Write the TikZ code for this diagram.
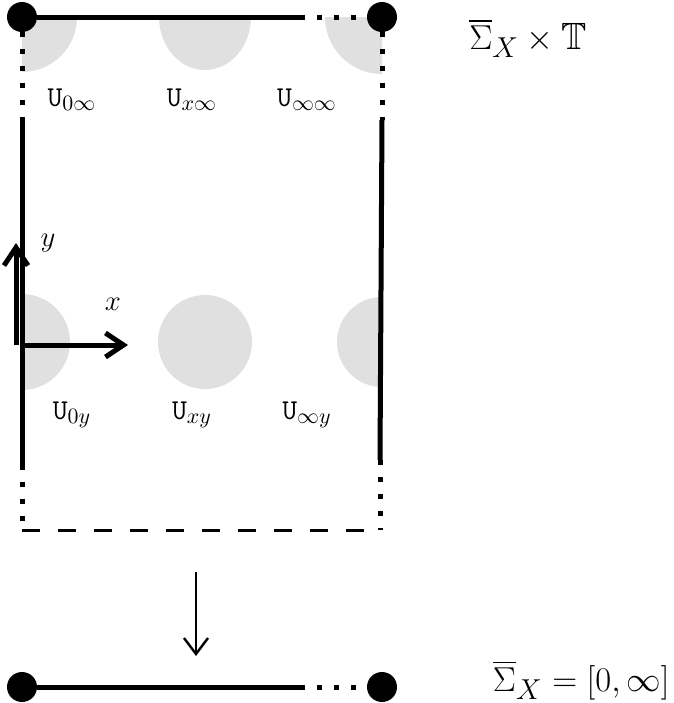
\documentclass[tikz,border=0pt]{standalone}
\usepackage{amsmath}
\usepackage{amssymb}
\usetikzlibrary{arrows.meta, positioning}

\begin{document}
\begin{tikzpicture}[x=0.5pt, y=-0.5pt,
    thick line/.style={line width=2.5pt},
    dot line/.style={line width=2.5pt, dash pattern=on 2.5pt off 6pt},
    region/.style={fill=black!12, draw=none},
    ulabel/.style={font=\fontsize{15}{17}\selectfont},
    pt/.style={circle, fill=black, inner sep=0pt, minimum size=15pt}]
  \useasboundingbox (0,0) rectangle (674,703);
  % grey neighbourhoods
  \fill[region] (22,17) -- (77,17) arc[start angle=0, end angle=90, radius=55] -- cycle;
  \fill[region] (159,17) arc[start angle=180, end angle=0, x radius=46, y radius=53] -- cycle;
  \fill[region] (382,17) -- (382,74) arc[start angle=90, end angle=180, radius=57] -- cycle;
  \fill[region] (22,294) arc[start angle=-90, end angle=90, radius=48] -- cycle;
  \fill[region] (205,342) circle[radius=47];
  \fill[region] (382,297) arc[start angle=-90, end angle=-270, radius=45] -- cycle;
  % corners
  \node[pt] (tl) at (22,17) {};
  \node[pt] (tr) at (382,17) {};
  \node[pt] (bl) at (22,687) {};
  \node[pt] (br) at (382,687) {};
  \coordinate (ta) at (300,17);
  \coordinate (ba) at (300,687);
  \coordinate (la) at (22,120);
  \coordinate (lb) at (22,465);
  \coordinate (lc) at (22,530);
  \coordinate (ra) at (382,120);
  \coordinate (rb) at (380,460);
  \coordinate (rc) at (380,530);
  % boundary
  \draw[thick line] (tl) -- (ta);
  \draw[dot line] (ta) -- (tr);
  \draw[dot line] (tl) -- (la);
  \draw[thick line] (la) -- (lb);
  \draw[dot line] (lb) -- (lc);
  \draw[dot line] (tr) -- (ra);
  \draw[thick line] (ra) -- (rb);
  \draw[dot line] (rb) -- (rc);
  \draw[line width=1.5pt, dash pattern=on 9pt off 9pt] (lc) -- (rc);
  \draw[thick line] (bl) -- (ba);
  \draw[dot line] (ba) -- (br);
  % axes
  \coordinate (o) at (20,345);
  \coordinate (yt) at (16,243);
  \coordinate (xt) at (128,345);
  \draw[thick line, -{Straight Barb[length=9pt, width=12pt]}] (16,345) -- (yt);
  \draw[thick line, -{Straight Barb[length=9pt, width=12pt]}] (o) -- (xt);
  \node[ulabel] at (48,243) {$y$};
  \node[ulabel] at (113,304) {$x$};
  % labels
  \node[ulabel] (u0i) at (72,100) {$\mathtt{U}_{0\infty}$};
  \node[ulabel] (uxi) at (192,100) {$\mathtt{U}_{x\infty}$};
  \node[ulabel] (uii) at (307,100) {$\mathtt{U}_{\infty\infty}$};
  \node[ulabel] (u0y) at (72,415) {$\mathtt{U}_{0y}$};
  \node[ulabel] (uxy) at (192,415) {$\mathtt{U}_{xy}$};
  \node[ulabel] (uiy) at (307,415) {$\mathtt{U}_{\infty y}$};
  \node[font=\fontsize{19}{22}\selectfont] (top) at (528,38) {$\overline{\Sigma}_X\times\mathbb{T}$};
  \node[font=\fontsize{19}{22}\selectfont, anchor=east, inner sep=1pt] (bot) at (672,680) {$\overline{\Sigma}_X=[0,\infty]$};
  % projection
  \coordinate (pa) at (196,572);
  \coordinate (pb) at (196,656);
  \draw[line width=1.2pt, -{Straight Barb[length=8pt, width=12pt]}] (pa) -- (pb);
\end{tikzpicture}
\end{document}
